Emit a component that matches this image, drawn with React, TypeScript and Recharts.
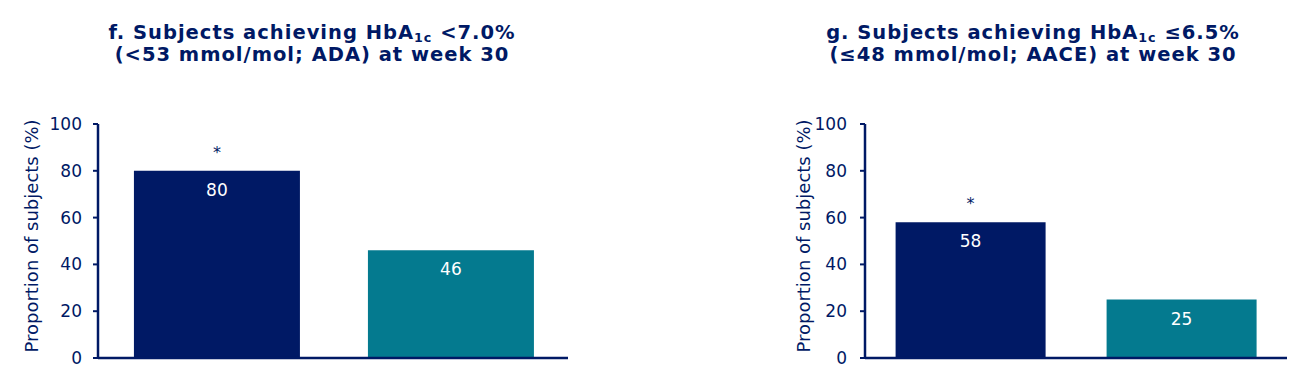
import { BarChart, Bar, XAxis, YAxis, LabelList, Cell, Label } from "recharts";

// two treatment arms per panel (x axis has no tick labels in the source)
const arms = ["Arm 1", "Arm 2"];
const adaValues = [80, 46];
const aaceValues = [58, 25];
const adaStars = ["*", ""];
const aaceStars = ["*", ""];
const yTicks = [0, 20, 40, 60, 80, 100];
const barColors = ["#001965", "#047A8F"];

const NAVY = "#001965";
const FONT = "'DejaVu Sans', Verdana, sans-serif";

type PanelProps = {
  values: number[];
  stars: string[];
  title: [string, string, string];
  left: number;
  yAxisWidth: number;
  marginRight: number;
  tickGap: number;
  padLeft: number;
  labelX: number;
  titleCenter: number;
};

function Panel(p: PanelProps) {
  const rows = arms.map((arm, i) => ({ arm, value: p.values[i], star: p.stars[i] }));

  const AxisTitle = (props: any) => {
    const vb = props.viewBox || { x: 0, y: 124, height: 234 };
    const cx = vb.x + p.labelX;
    const cy = vb.y + vb.height / 2 - 5;
    return (
      <text
        x={cx}
        y={cy}
        transform={`rotate(-90 ${cx} ${cy})`}
        textAnchor="middle"
        dominantBaseline="central"
        fill={NAVY}
        fontSize={18}
        fontFamily={FONT}
      >
        Proportion of subjects (%)
      </text>
    );
  };

  return (
    <div style={{ position: "absolute", left: p.left, top: 0, width: 653, height: 372 }}>
      <div
        style={{
          position: "absolute",
          left: p.titleCenter - p.left - 260,
          width: 520,
          top: 22,
          textAlign: "center",
          fontFamily: FONT,
          fontWeight: "bold",
          fontSize: 19.5,
          lineHeight: "22px",
          letterSpacing: 1,
          color: NAVY,
        }}
      >
        {p.title[0]}
        <span style={{ fontSize: "0.65em", verticalAlign: "-0.25em", lineHeight: 0 }}>1c</span>
        {p.title[1]}
        <br />
        {p.title[2]}
      </div>
      <BarChart
        width={653}
        height={372}
        data={rows}
        margin={{ top: 124, right: p.marginRight, bottom: 13, left: 0 }}
        barCategoryGap="14.5%"
      >
        <XAxis
          dataKey="arm"
          tick={false}
          tickLine={false}
          height={1}
          padding={{ left: p.padLeft, right: 0 }}
          axisLine={{ stroke: NAVY, strokeWidth: 2.5 }}
        />
        <YAxis
          domain={[0, 100]}
          ticks={yTicks}
          interval={0}
          width={p.yAxisWidth}
          tickSize={5}
          tickMargin={p.tickGap}
          axisLine={{ stroke: NAVY, strokeWidth: 2.5 }}
          tickLine={{ stroke: NAVY, strokeWidth: 2 }}
          tick={{ fill: NAVY, fontSize: 17, fontFamily: FONT }}
        >
          <Label content={AxisTitle} />
        </YAxis>
        <Bar dataKey="value" isAnimationActive={false}>
          {rows.map((r, i) => (
            <Cell key={r.arm} fill={barColors[i]} />
          ))}
          <LabelList
            dataKey="value"
            position="insideTop"
            offset={13}
            fill="#ffffff"
            fontSize={17}
            fontFamily={FONT}
          />
          <LabelList
            dataKey="star"
            position="top"
            offset={13}
            fill={NAVY}
            fontSize={16}
            fontFamily={FONT}
          />
        </Bar>
      </BarChart>
    </div>
  );
}

export default function App() {
  return (
    <div style={{ position: "absolute", left: 0, top: 0, width: 1306, height: 372, background: "#fff" }}>
      <Panel
        values={adaValues}
        stars={adaStars}
        title={["f. Subjects achieving HbA", " <7.0%", "(<53 mmol/mol; ADA) at week 30"]}
        left={0}
        yAxisWidth={98}
        marginRight={85}
        tickGap={11}
        padLeft={2}
        labelX={31}
        titleCenter={312}
      />
      <Panel
        values={aaceValues}
        stars={aaceStars}
        title={["g. Subjects achieving HbA", " \u22646.5%", "(\u226448 mmol/mol; AACE) at week 30"]}
        left={653}
        yAxisWidth={212}
        marginRight={19}
        tickGap={13}
        padLeft={0}
        labelX={150}
        titleCenter={1033}
      />
    </div>
  );
}
